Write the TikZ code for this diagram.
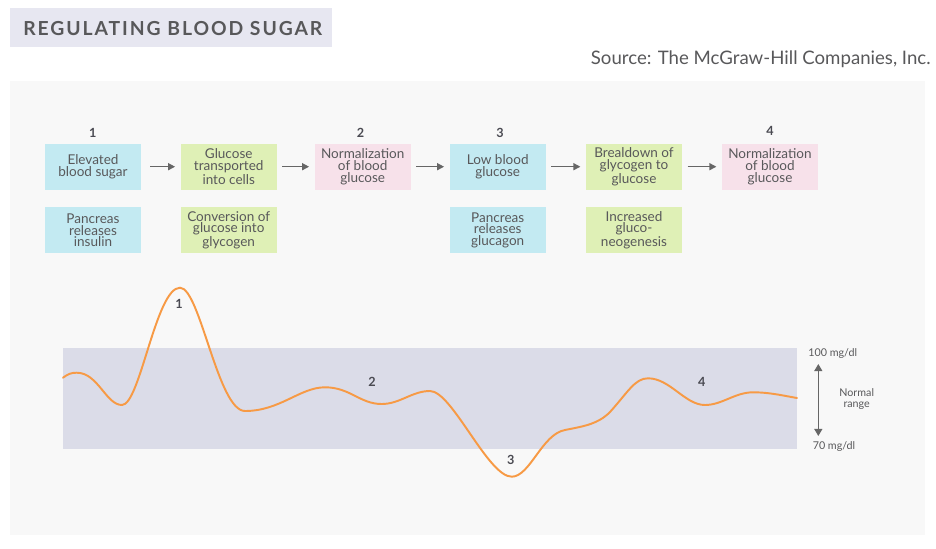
\documentclass[tikz,border=0pt]{standalone}
\usepackage{fontspec}
\setmainfont{Lato}
\newfontfamily\titlefont[LetterSpace=10]{Lato}
\usepackage{tikz}
\usetikzlibrary{arrows.meta}

\definecolor{txtgray}{HTML}{58585A}
\definecolor{numgray}{HTML}{4A4A52}
\definecolor{boxblue}{HTML}{C3EAF2}
\definecolor{boxgreen}{HTML}{DFF0B6}
\definecolor{boxpink}{HTML}{F7E1EA}
\definecolor{titlebg}{HTML}{E7E7F1}
\definecolor{panelbg}{HTML}{F8F8F8}
\definecolor{bandbg}{HTML}{DBDCE8}
\definecolor{curveorange}{HTML}{F79A45}
\definecolor{arrgray}{HTML}{666666}

\begin{document}
\begin{tikzpicture}[x=0.02cm,y=-0.02cm,
    stepbox/.style={rectangle,minimum width=1.92cm,minimum height=0.92cm,inner sep=0pt,
      align=center,text=txtgray,font=\fontsize{7.7}{6.6}\selectfont},
    num/.style={text=numgray,font=\fontsize{7.2}{8}\selectfont\bfseries},
    flow/.style={arrgray,line width=0.8pt,-{Triangle[length=4pt,width=4pt]}},
    side/.style={text=txtgray,font=\fontsize{6.1}{6.4}\selectfont,align=center}]
            \useasboundingbox (0,0) rectangle (936,548);
            % Title and source
            \fill[titlebg] (10,8) rectangle (332,47);
            \node[anchor=west,inner sep=0pt,text=txtgray,font=\titlefont\fontsize{11}{12}\selectfont\bfseries] (title) at (23,29) {REGULATING BLOOD SUGAR};
            \node[anchor=east,inner sep=0pt,text=txtgray,font=\fontsize{10.6}{12}\selectfont] (src) at (931,59) {Source: The McGraw-Hill Companies, Inc.};
            \fill[panelbg] (10,81) rectangle (925,535);

            % Place the step boxes
            \node[stepbox,fill=boxblue] (b1) at (93,166.7) {Elevated\\blood sugar};
            \node[stepbox,fill=boxgreen] (b2) at (228.7,166.7) {Glucose\\transported\\into cells};
            \node[stepbox,fill=boxpink] (b3) at (362.7,166.7) {Normalization\\of blood\\glucose};
            \node[stepbox,fill=boxblue] (b4) at (497.7,166.7) {Low blood\\glucose};
            \node[stepbox,fill=boxgreen] (b5) at (634,166.7) {Brealdown of\\glycogen to\\glucose};
            \node[stepbox,fill=boxpink] (b6) at (770,166.7) {Normalization\\of blood\\glucose};

            % The boxes underneath
            \node[stepbox,fill=boxblue] (c1) at (93,230.3) {Pancreas\\releases\\insulin};
            \node[stepbox,fill=boxgreen] (c2) at (228.7,230.3) {Conversion of\\glucose into\\glycogen};
            \node[stepbox,fill=boxblue] (c4) at (497.7,230.3) {Pancreas\\releases\\glucagon};
            \node[stepbox,fill=boxgreen] (c5) at (634,230.3) {Increased\\gluco-\\neogenesis};

            % Step numbers
            \node[num] (n1) at (92.7,132.5) {1};
            \node[num] (n2) at (360.5,132.5) {2};
            \node[num] (n3) at (500,132.5) {3};
            \node[num] (n4) at (770,131) {4};

            % The arrows!
            \draw[flow] ([xshift=5pt]b1.east) -- ([xshift=-3pt]b2.west);
            \draw[flow] ([xshift=3pt]b2.east) -- ([xshift=-3pt]b3.west);
            \draw[flow] ([xshift=3pt]b3.east) -- ([xshift=-3pt]b4.west);
            \draw[flow] ([xshift=3pt]b4.east) -- ([xshift=-3pt]b5.west);
            \draw[flow] ([xshift=3pt]b5.east) -- ([xshift=-3pt]b6.west);

            % Normal range band
            \fill[bandbg] (63,348) rectangle (797,448.7);

            % The blood sugar curve
            \draw[curveorange,line width=1.1pt,line cap=round]
              (63,377.7) .. controls (68,374) and (71,372.7) .. (76.7,372.7)
              .. controls (98,372.7) and (106,405) .. (122,405)
              .. controls (140,405) and (156,287.7) .. (180,287.7)
              .. controls (200,287.7) and (218,411) .. (245,411)
              .. controls (280,411) and (300,387.3) .. (325,387.3)
              .. controls (350,387.3) and (360,404) .. (381.7,404)
              .. controls (400,404) and (412,391) .. (430,391)
              .. controls (452,391) and (488,476.7) .. (511.7,476.7)
              .. controls (530,476.7) and (542,434) .. (565,430)
              .. controls (585,426) and (598,424) .. (610,412)
              .. controls (628,392) and (635,378.3) .. (648,378.3)
              .. controls (670,378.3) and (685,405) .. (705,405)
              .. controls (722,405) and (735,392.3) .. (753,392.3)
              .. controls (770,392.3) and (785,396) .. (797,398);

            % Labels on the curve
            \node[num] (p1) at (179,304) {1};
            \node[num] (p2) at (372,381.7) {2};
            \node[num] (p3) at (510.7,460) {3};
            \node[num] (p4) at (701.7,381.7) {4};

            % Range arrow and its labels
            \node[side] (hi) at (832.7,354) {100 mg/dl};
            \node[side] (lo) at (834,447) {70 mg/dl};
            \node[side] (rng) at (856.7,399) {Normal\\range};
            \coordinate (top) at (818.3,364);
            \coordinate (bot) at (818.3,436);
            \draw[arrgray,line width=0.8pt,{Triangle[length=4pt,width=4.5pt]}-{Triangle[length=4pt,width=4.5pt]}] (top) -- (bot);
        \end{tikzpicture}
\end{document}
